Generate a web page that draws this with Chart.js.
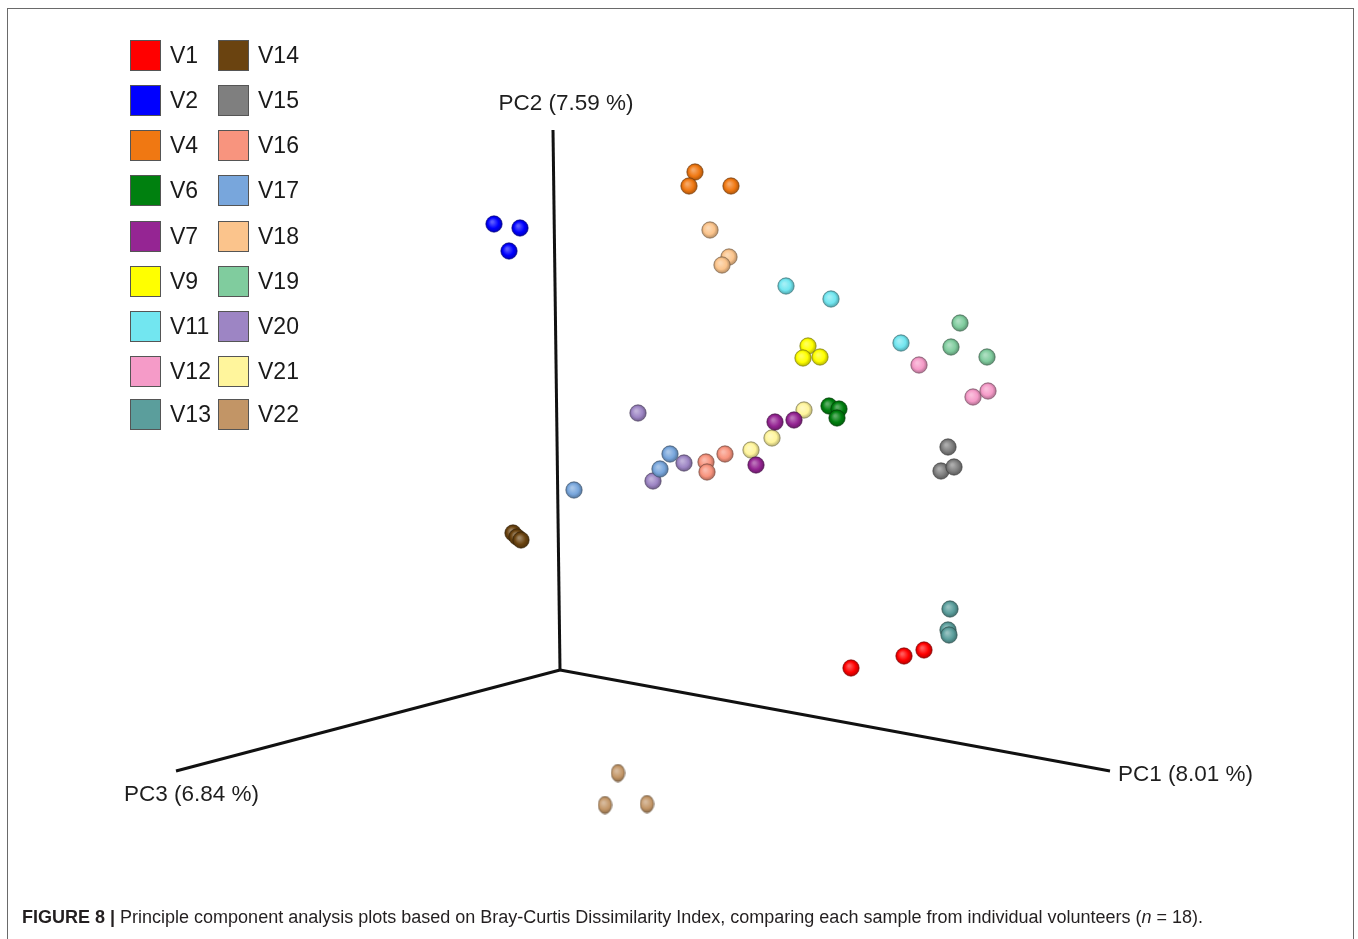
<!DOCTYPE html>
<html>
<head>
<meta charset="utf-8">
<script src="https://cdn.jsdelivr.net/npm/chart.js@4/dist/chart.umd.min.js"></script>
<style>
  body { margin: 0; background: #fff; font-family: "Liberation Sans", Arial, sans-serif; }
  #wrap { position: relative; width: 1358px; height: 939px; overflow: hidden; }
  #frame { position: absolute; left: 7px; top: 8px; width: 1347px; height: 960px; border: 1px solid #6a6a6a; box-sizing: border-box; }
  canvas { position: absolute; left: 0; top: 0; }
  .leg { position: absolute; display: flex; align-items: center; font-size: 23px; color: #1a1a1a; }
  .leg span.box { width: 31px; height: 31px; border: 1px solid #555; box-sizing: border-box; margin-right: 9px; }
  #caption { position: absolute; left: 22px; top: 907px; font-size: 18px; color: #231f20; white-space: nowrap; }
</style>
</head>
<body>
<div id="wrap">
  <div id="frame"></div>
  <canvas id="chart" width="1358" height="939"></canvas>
  <div id="legend"></div>
  <div id="caption"><b>FIGURE 8 |</b> Principle component analysis plots based on Bray-Curtis Dissimilarity Index, comparing each sample from individual volunteers (<i>n</i> = 18).</div>
</div>
<script>
// volunteers and their colours
const volunteers = ["V1", "V2", "V4", "V6", "V7", "V9", "V11", "V12", "V13",
                    "V14", "V15", "V16", "V17", "V18", "V19", "V20", "V21", "V22"];
const colors = ["#ff0000", "#0000ff", "#f07812", "#00800f", "#952593", "#ffff00", "#72e6f0", "#f59bc8", "#5b9e9c",
                "#6a4310", "#7f7f7f", "#f8947e", "#78a6dc", "#fbc48c", "#80cc9e", "#9d85c4", "#fff59c", "#c29566"];

// projected positions of the samples (horizontal / vertical on the 3D view plane)
const projX = [
  [2.91, 3.44, 3.64],   // V1
  [-0.66, -0.40, -0.51],// V2
  [1.35, 1.29, 1.71],   // V4
  [2.69, 2.79, 2.77],   // V6
  [2.15, 2.34, 1.96],   // V7
  [2.48, 2.43, 2.60],   // V9
  [2.26, 2.71, 3.41],   // V11
  [3.59, 4.13, 4.28],   // V12
  [3.90, 3.88, 3.89],   // V13
  [-0.47, -0.43, -0.39],// V14
  [3.88, 3.81, 3.94],   // V15
  [1.46, 1.47, 1.65],   // V16
  [1.10, 1.00, 0.14],   // V17
  [1.50, 1.69, 1.62],   // V18
  [4.00, 3.91, 4.27],   // V19
  [0.78, 1.24, 0.93],   // V20
  [2.44, 2.12, 1.91],   // V21
  [0.58, 0.45, 0.87]    // V22
];
const projY = [
  [0.02, 0.14, 0.20],
  [4.46, 4.42, 4.19],
  [4.98, 4.84, 4.84],
  [2.64, 2.61, 2.52],
  [2.48, 2.50, 2.05],
  [3.24, 3.12, 3.13],
  [3.84, 3.71, 3.27],
  [3.05, 2.73, 2.79],
  [0.61, 0.40, 0.35],
  [1.37, 1.33, 1.30],
  [2.23, 1.99, 2.03],
  [2.08, 1.98, 2.16],
  [2.16, 2.01, 1.80],
  [4.40, 4.13, 4.05],
  [3.47, 3.23, 3.13],
  [2.57, 2.07, 1.89],
  [2.60, 2.32, 2.20],
  [-1.03, -1.35, -1.34]
];

// axis ends of the 3D frame
const axisNames = ["PC1 (8.01 %)", "PC2 (7.59 %)", "PC3 (6.84 %)"];
const axisEndX = [5.50, -0.07, -3.84];
const axisEndY = [-1.01, 5.40, -1.01];
const labelX = [5.58, 0.06, -4.36];
const labelY = [-1.05, 5.66, -1.25];
const labelAlign = ["left", "center", "left"];

function shade(hex, f) {
  const n = parseInt(hex.slice(1), 16);
  let r = (n >> 16) & 255, g = (n >> 8) & 255, b = n & 255;
  if (f > 0) { r += (255 - r) * f; g += (255 - g) * f; b += (255 - b) * f; }
  else { r *= 1 + f; g *= 1 + f; b *= 1 + f; }
  return "rgb(" + Math.round(r) + "," + Math.round(g) + "," + Math.round(b) + ")";
}

// little shaded ball used as point style
function ball(color, w, h) {
  const c = document.createElement("canvas");
  c.width = w; c.height = h;
  const g = c.getContext("2d");
  const grad = g.createRadialGradient(w * 0.4, h * 0.38, 1, w / 2, h / 2, Math.max(w, h) / 2);
  grad.addColorStop(0, shade(color, 0.35));
  grad.addColorStop(0.55, color);
  grad.addColorStop(1, shade(color, -0.35));
  g.fillStyle = grad;
  g.beginPath();
  g.ellipse(w / 2, h / 2, w / 2 - 0.8, h / 2 - 0.8, 0, 0, Math.PI * 2);
  g.fill();
  g.strokeStyle = shade(color, -0.55);
  g.globalAlpha = 0.6;
  g.lineWidth = 1;
  g.stroke();
  return c;
}

const datasets = [];
axisNames.forEach((name, i) => {
  datasets.push({
    label: name,
    type: "line",
    data: [{ x: 0, y: 0 }, { x: axisEndX[i], y: axisEndY[i] }],
    borderColor: "#111",
    borderWidth: 3,
    pointRadius: 0,
    fill: false
  });
});
volunteers.forEach((v, i) => {
  datasets.push({
    label: v,
    data: projX[i].map((x, j) => ({ x: x, y: projY[i][j] })),
    pointStyle: v === "V22" ? ball(colors[i], 15, 19) : ball(colors[i], 18, 18),
    backgroundColor: colors[i]
  });
});

const axisLabels = {
  id: "axisLabels",
  afterDatasetsDraw(chart) {
    const { ctx, scales } = chart;
    ctx.save();
    ctx.font = "22.5px 'Liberation Sans', Arial, sans-serif";
    ctx.fillStyle = "#1e1e1e";
    ctx.textBaseline = "middle";
    axisNames.forEach((name, i) => {
      ctx.textAlign = labelAlign[i];
      ctx.fillText(name, scales.x.getPixelForValue(labelX[i]), scales.y.getPixelForValue(labelY[i]));
    });
    ctx.restore();
  }
};

new Chart(document.getElementById("chart"), {
  type: "scatter",
  data: { datasets: datasets },
  options: {
    responsive: false,
    animation: false,
    layout: { padding: 0, autoPadding: false },
    scales: {
      x: { type: "linear", min: -5.60, max: 7.98, display: false },
      y: { type: "linear", min: -2.69, max: 6.70, display: false }
    },
    plugins: { legend: { display: false }, tooltip: { enabled: false } }
  },
  plugins: [axisLabels]
});

// legend, two columns of nine
const legendRows = [55, 100, 145, 190, 236, 281, 326, 371, 414];
const legend = document.getElementById("legend");
volunteers.forEach((v, i) => {
  const col = Math.floor(i / 9), row = i % 9;
  const d = document.createElement("div");
  d.className = "leg";
  d.style.left = (col === 0 ? 130 : 218) + "px";
  d.style.top = (legendRows[row] - 15) + "px";
  d.innerHTML = '<span class="box" style="background:' + colors[i] + '"></span>' + v;
  legend.appendChild(d);
});
</script>
</body>
</html>
